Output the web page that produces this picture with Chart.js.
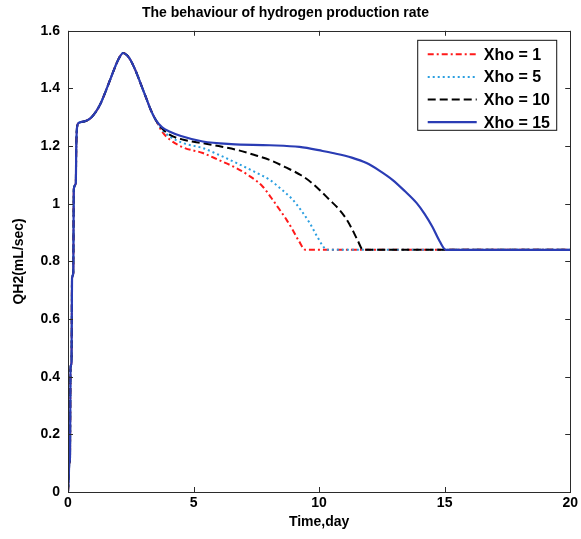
<!DOCTYPE html>
<html>
<head>
<meta charset="utf-8">
<title>Hydrogen production rate</title>
<script src="https://cdn.jsdelivr.net/npm/chart.js@4.4.1/dist/chart.umd.min.js"></script>
<style>
  html, body { margin: 0; padding: 0; background: #fff; }
  #chart { display: block; }
</style>
</head>
<body>
<canvas id="chart" width="581" height="539"></canvas>
<script>
// start-up part is the same for every Xho value
const sharedTime = [0, 0.03, 0.05, 0.08, 0.1, 0.14, 0.16, 0.21, 0.23, 0.31, 0.33, 0.36, 0.42, 0.5, 0.7, 0.9, 1.1, 1.3, 1.5, 1.7, 1.9, 2.05, 2.2, 2.35, 2.5, 2.7, 2.9, 3.1, 3.3, 3.5];
const sharedQ    = [0, 0.05, 0.1, 0.12, 0.43, 0.45, 0.74, 0.76, 1.05, 1.07, 1.2, 1.265, 1.28, 1.283, 1.287, 1.297, 1.318, 1.348, 1.39, 1.435, 1.48, 1.508, 1.523, 1.515, 1.497, 1.46, 1.415, 1.37, 1.325, 1.29];

// tails after the curves split
const timeXho1 = [3.75, 4.06, 4.6, 5.37, 6.0, 6.72, 7.25, 7.75, 8.1, 8.43, 8.7, 8.95, 9.2, 9.45, 20];
const qXho1    = [1.25, 1.222, 1.195, 1.176, 1.152, 1.123, 1.095, 1.06, 1.02, 0.979, 0.945, 0.909, 0.87, 0.84, 0.84];

const timeXho5 = [3.75, 4.06, 4.6, 5.37, 6.0, 6.72, 7.4, 8.03, 8.5, 8.95, 9.3, 9.62, 9.9, 10.14, 10.3, 20];
const qXho5    = [1.257, 1.233, 1.21, 1.193, 1.17, 1.141, 1.112, 1.083, 1.05, 1.014, 0.975, 0.934, 0.89, 0.855, 0.84, 0.84];

const timeXho10 = [3.75, 4.06, 4.6, 5.37, 6.0, 6.72, 7.4, 8.03, 8.7, 9.3, 9.7, 10.02, 10.4, 10.81, 11.1, 11.33, 11.55, 11.75, 20];
const qXho10    = [1.261, 1.239, 1.222, 1.21, 1.2, 1.187, 1.17, 1.152, 1.125, 1.098, 1.073, 1.048, 1.015, 0.979, 0.945, 0.909, 0.87, 0.84, 0.84];

const timeXho15 = [3.75, 4.06, 4.5, 5.37, 6.5, 8.03, 9.22, 10.14, 10.54, 11.3, 11.89, 12.4, 12.92, 13.4, 13.88, 14.2, 14.51, 14.8, 15.05, 20];
const qXho15    = [1.265, 1.25, 1.235, 1.216, 1.207, 1.203, 1.197, 1.183, 1.176, 1.16, 1.141, 1.115, 1.083, 1.045, 1.003, 0.965, 0.92, 0.87, 0.84, 0.84];

const seriesLabels = ['Xho = 1', 'Xho = 5', 'Xho = 10', 'Xho = 15'];
const xTicks = [0, 5, 10, 15, 20];
const yTicks = [0, 0.2, 0.4, 0.6, 0.8, 1, 1.2, 1.4, 1.6];

const FONT = 'Liberation Sans, Arial, Helvetica, sans-serif';

function toPoints(times, values){
  const t = sharedTime.concat(times);
  const v = sharedQ.concat(values);
  return t.map((x, i) => ({ x: x, y: v[i] }));
}

function fmt(v){
  return String(parseFloat(Number(v).toFixed(1)));
}

// matlab style box with inward ticks plus a boxed legend
const boxPlugin = {
  id: 'matlabBox',
  afterDatasetsDraw(chart){
    const ctx = chart.ctx;
    const a = chart.chartArea;
    const xs = chart.scales.x, ys = chart.scales.y;
    ctx.save();
    ctx.strokeStyle = '#2b2b2b';
    ctx.lineWidth = 1;
    ctx.setLineDash([]);
    ctx.strokeRect(Math.round(a.left) + 0.5, Math.round(a.top) + 0.5, Math.round(a.right - a.left), Math.round(a.bottom - a.top));
    const len = 5;
    ctx.beginPath();
    xTicks.forEach(v => {
      const px = Math.round(xs.getPixelForValue(v)) + 0.5;
      ctx.moveTo(px, a.bottom); ctx.lineTo(px, a.bottom - len);
      ctx.moveTo(px, a.top); ctx.lineTo(px, a.top + len);
    });
    yTicks.forEach(v => {
      const py = Math.round(ys.getPixelForValue(v)) + 0.5;
      ctx.moveTo(a.left, py); ctx.lineTo(a.left + len, py);
      ctx.moveTo(a.right, py); ctx.lineTo(a.right - len, py);
    });
    ctx.stroke();

    // legend
    const bx = a.right - 152.5, by = a.top + 9.5, bw = 139, bh = 90;
    ctx.fillStyle = '#fff';
    ctx.fillRect(bx, by, bw, bh);
    ctx.strokeStyle = '#111';
    ctx.strokeRect(bx, by, bw, bh);
    ctx.font = 'bold 16px ' + FONT;
    ctx.textBaseline = 'middle';
    ctx.textAlign = 'left';
    const order = [3, 2, 1, 0]; // datasets are stored blue first
    order.forEach((di, row) => {
      const ds = chart.data.datasets[di];
      const y = by + 14 + row * 22.6;
      ctx.beginPath();
      ctx.strokeStyle = ds.borderColor;
      ctx.lineWidth = ds.borderWidth;
      ctx.setLineDash(ds.borderDash || []);
      ctx.moveTo(bx + 10, y);
      ctx.lineTo(bx + 59, y);
      ctx.stroke();
      ctx.setLineDash([]);
      ctx.fillStyle = '#000';
      ctx.fillText(ds.label, bx + 66, y + 1);
    });
    ctx.restore();
  }
};

const ctx = document.getElementById('chart').getContext('2d');
new Chart(ctx, {
  type: 'line',
  data: {
    datasets: [
      { label: seriesLabels[3], data: toPoints(timeXho15, qXho15), borderColor: '#2a3cb4', borderWidth: 2.2, borderDash: [] },
      { label: seriesLabels[2], data: toPoints(timeXho10, qXho10), borderColor: '#000000', borderWidth: 2, borderDash: [8, 4] },
      { label: seriesLabels[1], data: toPoints(timeXho5, qXho5), borderColor: '#2b9fe0', borderWidth: 2, borderDash: [2, 3] },
      { label: seriesLabels[0], data: toPoints(timeXho1, qXho1), borderColor: '#ff1a1a', borderWidth: 2, borderDash: [6, 3, 2, 3] }
    ].map(d => Object.assign(d, { pointRadius: 0, fill: false, cubicInterpolationMode: 'monotone' }))
  },
  options: {
    responsive: false,
    animation: false,
    devicePixelRatio: 1,
    layout: { padding: { left: 0, right: 10, top: 0, bottom: 0 } },
    plugins: {
      legend: { display: false },
      tooltip: { enabled: false },
      title: {
        display: true,
        text: 'The behaviour of hydrogen production rate',
        color: '#000',
        font: { family: FONT, size: 14, weight: 'bold' },
        padding: { top: 5, bottom: 9 }
      }
    },
    scales: {
      x: {
        type: 'linear',
        min: 0, max: 20,
        grid: { display: false, drawTicks: false },
        border: { display: false },
        afterFit: s => { s.height = 47; },
        afterBuildTicks: s => { s.ticks = xTicks.map(v => ({ value: v })); },
        ticks: { color: '#000', padding: 3, maxRotation: 0, font: { family: FONT, size: 14, weight: 'bold' }, callback: v => fmt(v) },
        title: { display: true, text: 'Time,day', color: '#000', font: { family: FONT, size: 14, weight: 'bold' }, padding: { top: 0, bottom: 8 } }
      },
      y: {
        min: 0, max: 1.6,
        grid: { display: false, drawTicks: false },
        border: { display: false },
        afterFit: s => { s.width = 68; },
        afterBuildTicks: s => { s.ticks = yTicks.map(v => ({ value: v })); },
        ticks: { color: '#000', padding: 8, font: { family: FONT, size: 14, weight: 'bold' }, callback: v => fmt(v) },
        title: { display: true, text: 'QH2(mL/sec)', color: '#000', font: { family: FONT, size: 14, weight: 'bold' }, padding: { top: 11, bottom: 0 } }
      }
    }
  },
  plugins: [boxPlugin]
});
</script>
</body>
</html>
